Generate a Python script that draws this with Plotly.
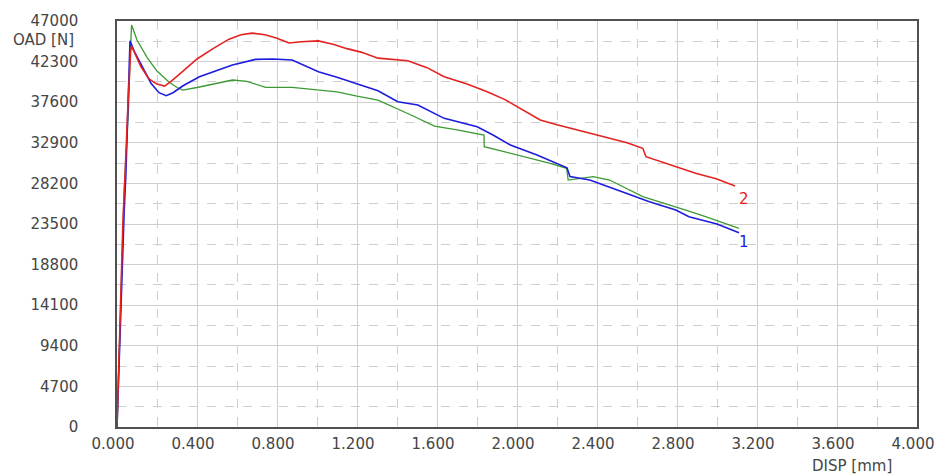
import plotly.graph_objects as go

# ---- data ----
red_x = [0, 0.004, 0.008, 0.015, 0.022, 0.030, 0.038, 0.045, 0.048, 0.055, 0.062, 0.068, 0.073,
         0.09, 0.12, 0.16, 0.2, 0.238, 0.27, 0.33, 0.4, 0.48, 0.56, 0.62, 0.675, 0.74, 0.8, 0.86,
         0.92, 1.007, 1.08, 1.15, 1.22, 1.305, 1.454, 1.55, 1.636, 1.75, 1.851, 1.94, 2.017, 2.116,
         2.2, 2.298, 2.463, 2.55, 2.629, 2.645, 2.72, 2.794, 2.893, 3.0, 3.083, 3.09]
red_y = [0, 3000, 8000, 14000, 19000, 24000, 28000, 30900, 33570, 37500, 41670, 43500, 44100,
         43200, 41700, 40300, 39700, 39470, 40000, 41200, 42600, 43800, 44900, 45400, 45600, 45400,
         45000, 44450, 44600, 44700, 44300, 43800, 43400, 42700, 42400, 41600, 40550, 39700, 38820,
         37900, 36890, 35540, 35000, 34380, 33420, 32900, 32260, 31290, 30700, 30130, 29370, 28700,
         28010, 27900]

blue_x = [0, 0.004, 0.01, 0.018, 0.027, 0.036, 0.044, 0.05, 0.058, 0.065, 0.09, 0.13, 0.17, 0.21,
          0.246, 0.28, 0.33, 0.412, 0.5, 0.577, 0.693, 0.78, 0.876, 0.94, 1.007, 1.1, 1.2, 1.305,
          1.404, 1.504, 1.636, 1.801, 1.88, 1.967, 2.1, 2.199, 2.25, 2.265, 2.364, 2.546, 2.662,
          2.794, 2.86, 3.0, 3.083, 3.11]
blue_y = [0, 3000, 8000, 14000, 20000, 25000, 29000, 33000, 39000, 44720, 43300, 41500, 39800,
          38700, 38350, 38700, 39500, 40550, 41300, 41900, 42560, 42600, 42480, 41800, 41130, 40500,
          39700, 38930, 37660, 37270, 35730, 34760, 33800, 32640, 31490, 30530, 30000, 28980, 28590,
          27050, 26080, 25120, 24350, 23500, 22730, 22500]

green_x = [0, 0.003, 0.008, 0.014, 0.02, 0.028, 0.035, 0.042, 0.05, 0.058, 0.066, 0.073, 0.1,
           0.15, 0.2, 0.258, 0.3, 0.329, 0.4, 0.48, 0.577, 0.65, 0.743, 0.875, 1.007, 1.1, 1.2,
           1.305, 1.47, 1.587, 1.7, 1.801, 1.835, 1.836, 1.967, 2.166, 2.248, 2.256, 2.381, 2.463,
           2.629, 2.794, 2.844, 2.943, 3.092, 3.11]
green_y = [0, 2500, 7000, 12000, 17000, 22500, 27000, 30000, 33000, 37000, 43000, 46540, 44800,
           42800, 41200, 39970, 39300, 39010, 39300, 39700, 40170, 40000, 39320, 39320, 39010,
           38800, 38300, 37850, 36120, 34840, 34400, 34000, 33800, 32450, 31680, 30530, 29950,
           28590, 28980, 28590, 26660, 25510, 25120, 24350, 23190, 23000]

x_ticks = [0, 0.4, 0.8, 1.2, 1.6, 2.0, 2.4, 2.8, 3.2, 3.6, 4.0]
y_ticks = [0, 4700, 9400, 14100, 18800, 23500, 28200, 32900, 37600, 42300, 47000]

FONT = "DejaVu Sans"
TXT = "#454545"
GRID = "#cfcfcf"

fig = go.Figure()
fig.add_trace(go.Scatter(x=green_x, y=green_y, mode="lines",
                         line=dict(color="#3c9a32", width=1.3), showlegend=False))
fig.add_trace(go.Scatter(x=blue_x, y=blue_y, mode="lines",
                         line=dict(color="#1c1cdc", width=1.6), showlegend=False))
fig.add_trace(go.Scatter(x=red_x, y=red_y, mode="lines",
                         line=dict(color="#e42222", width=1.6), showlegend=False))

fig.add_annotation(x=red_x[-1], y=red_y[-1], text="2", showarrow=False, xanchor="left",
                   yanchor="top", xshift=2, yshift=-2, font=dict(family=FONT, size=15, color="#e42222"))
fig.add_annotation(x=blue_x[-1], y=blue_y[-1], text="1", showarrow=False, xanchor="left",
                   yanchor="top", xshift=-2, yshift=2, font=dict(family=FONT, size=15, color="#1c1cdc"))

fig.add_annotation(xref="paper", yref="paper", x=-0.132, y=0.952, text="OAD [N]",
                   showarrow=False, xanchor="left", yanchor="middle",
                   font=dict(family=FONT, size=15, color=TXT))
fig.add_annotation(xref="paper", yref="paper", x=0.9715, y=-0.069, text="DISP [mm]",
                   showarrow=False, xanchor="right", yanchor="top",
                   font=dict(family=FONT, size=15, color=TXT))

fig.update_xaxes(range=[0, 4], tickvals=x_ticks, ticktext=[f"{v:.3f}" for v in x_ticks],
                 showgrid=True, gridcolor=GRID, gridwidth=1, zeroline=False,
                 showline=True, linecolor="#505050", linewidth=1.5, mirror=True,
                 ticks="", ticklabelstandoff=2, ticklabelshift=-4,
                 tickfont=dict(family=FONT, size=15, color=TXT),
                 minor=dict(dtick=0.2, tick0=0, showgrid=True, gridcolor=GRID,
                            griddash="dash", gridwidth=1))
fig.update_yaxes(range=[0, 47000], tickvals=y_ticks, ticktext=[str(v) for v in y_ticks],
                 showgrid=True, gridcolor=GRID, gridwidth=1, zeroline=False,
                 showline=True, linecolor="#505050", linewidth=1.5, mirror=True,
                 ticks="", ticklabelstandoff=34,
                 tickfont=dict(family=FONT, size=15, color=TXT),
                 minor=dict(dtick=2350, tick0=0, showgrid=True, gridcolor=GRID,
                            griddash="dash", gridwidth=1))

fig.update_layout(width=946, height=475, margin=dict(l=117, r=23, t=21, b=48),
                  paper_bgcolor="white", plot_bgcolor="white")

fig.write_html("out.html")
